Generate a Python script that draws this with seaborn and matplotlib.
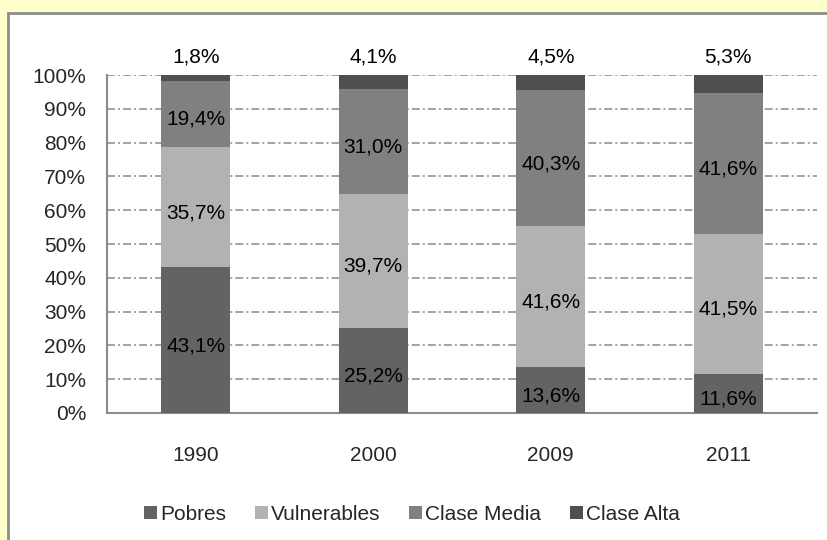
import matplotlib
matplotlib.use("Agg")
import matplotlib.pyplot as plt
import numpy as np
import pandas as pd
import seaborn as sns
from matplotlib import patches
from matplotlib.ticker import FixedLocator, PercentFormatter

YEARS = ["1990", "2000", "2009", "2011"]
GROUPS = ["Pobres", "Vulnerables", "Clase Media", "Clase Alta"]
POBRES = [43.1, 25.2, 13.6, 11.6]
VULNERABLES = [35.7, 39.7, 41.6, 41.5]
CLASE_MEDIA = [19.4, 31.0, 40.3, 41.6]
CLASE_ALTA = [1.8, 4.1, 4.5, 5.3]

COLORS = {
    "Pobres": "#636363",
    "Vulnerables": "#b2b2b2",
    "Clase Media": "#808080",
    "Clase Alta": "#4f4f4f",
}

FONT = ["Liberation Sans", "DejaVu Sans"]
FS = 15


def pct(v):
    return f"{v:.1f}".replace(".", ",") + "%"


sns.set_style("white")
plt.rcParams["font.family"] = FONT
plt.rcParams["font.size"] = FS

shares = pd.DataFrame(
    {"year": YEARS, "Pobres": POBRES, "Vulnerables": VULNERABLES,
     "Clase Media": CLASE_MEDIA, "Clase Alta": CLASE_ALTA}
)
cum = shares[GROUPS].cumsum(axis=1)
bottoms = cum - shares[GROUPS]

fig = plt.figure(figsize=(8.27, 5.40), dpi=100, facecolor="#ffffcc")
# white chart area with gray frame (extends past the canvas)
fig.patches.append(
    patches.Rectangle((8 / 827, -0.1), 1.2, 1 - 13 / 540 + 0.1,
                      transform=fig.transFigure, facecolor="white",
                      edgecolor="#8c8c8c", linewidth=2, zorder=-5)
)
ax = fig.add_axes([107 / 827, 1 - 413 / 540, 710 / 827, 338 / 540])
ax.set_facecolor("none")
ax.set_zorder(2)

# stacked bars: draw cumulative totals from the top down
for g in reversed(GROUPS):
    sns.barplot(x=shares["year"], y=cum[g], color=COLORS[g], width=0.39,
                saturation=1, linewidth=0, ax=ax, zorder=3)

for i, year in enumerate(YEARS):
    for g in GROUPS[:3]:
        ax.annotate(pct(shares.loc[i, g]), (i, bottoms.loc[i, g] + shares.loc[i, g] / 2),
                    xytext=(0, -4), textcoords="offset points",
                    ha="center", va="center", fontsize=FS, color="black", zorder=5)
    ax.annotate(pct(shares.loc[i, "Clase Alta"]), (i, 100),
                xytext=(0, 6), textcoords="offset points",
                ha="center", va="bottom", fontsize=FS, color="black", zorder=5)

ax.set_ylim(0, 100)
ax.set_xlim(-0.5, len(YEARS) - 0.5)
ax.yaxis.set_major_locator(FixedLocator(np.arange(0, 101, 10)))
ax.yaxis.set_major_formatter(PercentFormatter(decimals=0))
ax.yaxis.grid(True, color="#8a8a8a", linewidth=1.1, dashes=(5.2, 2, 1.3, 2), zorder=1)
ax.xaxis.grid(False)
ax.set_axisbelow(True)
ax.set_xlabel("")
ax.set_ylabel("")

for s in ["top", "right"]:
    ax.spines[s].set_visible(False)
for s in ["left", "bottom"]:
    ax.spines[s].set_color("#8c8c8c")
    ax.spines[s].set_linewidth(1.5)

ax.tick_params(axis="y", which="major", direction="inout", length=10, width=1.2,
               color="#8c8c8c", pad=10, labelsize=FS)
ax.tick_params(axis="x", which="major", length=0, pad=24, labelsize=FS)
ax.xaxis.set_minor_locator(FixedLocator(np.arange(-0.5, len(YEARS), 1.0)))
ax.tick_params(axis="x", which="minor", direction="out", length=6, width=1.2,
               color="#8c8c8c")

handles = [patches.Patch(facecolor=COLORS[g], edgecolor="none", label=g) for g in GROUPS]
fig.legend(handles=handles, loc="center", bbox_to_anchor=(412 / 827, 1 - 514 / 540),
           ncol=4, frameon=False, fontsize=FS, handlelength=0.6, handleheight=0.6,
           handletextpad=0.15, columnspacing=1.4)

fig.savefig("out.png", dpi=100, facecolor=fig.get_facecolor())
